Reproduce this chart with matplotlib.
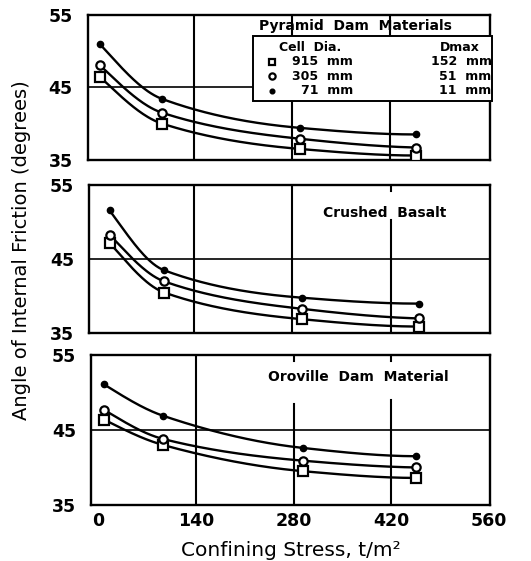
import numpy as np
import matplotlib
matplotlib.use('Agg')
import matplotlib.pyplot as plt

# =============================================================================
# DONNÉES
# =============================================================================
panel_titles = ['Pyramid  Dam  Materials', 'Crushed  Basalt', 'Oroville  Dam  Material']

stress_pyramid = [7, 95, 292, 457]
stress_basalt = [19, 97, 293, 460]
stress_oroville = [8, 93, 294, 455]

# 915 mm cell (squares)
phi_915_pyramid = [46.4, 40.0, 36.5, 35.6]
phi_915_basalt = [47.2, 40.5, 36.9, 35.9]
phi_915_oroville = [46.4, 43.0, 39.5, 38.6]

# 305 mm cell (open circles)
phi_305_pyramid = [48.0, 41.5, 37.9, 36.7]
phi_305_basalt = [48.3, 42.0, 38.3, 37.0]
phi_305_oroville = [47.7, 43.8, 40.9, 40.0]

# 71 mm cell (dots)
phi_71_pyramid = [50.9, 43.4, 39.4, 38.5]
phi_71_basalt = [51.6, 43.5, 39.8, 39.0]
phi_71_oroville = [51.1, 46.9, 42.6, 41.5]

x_ticks = [0, 140, 280, 420, 560]
y_ticks = [35, 45, 55]

legend_rows = [('915  mm', '152  mm'), ('305  mm', '51  mm'), ('71  mm', '11  mm')]

panels = [
    (stress_pyramid, phi_915_pyramid, phi_305_pyramid, phi_71_pyramid),
    (stress_basalt, phi_915_basalt, phi_305_basalt, phi_71_basalt),
    (stress_oroville, phi_915_oroville, phi_305_oroville, phi_71_oroville),
]


def smooth_curve(x, y, n=200):
    # courbe lisse monotone passant par les points (Hermite, Fritsch-Carlson)
    h = np.diff(x)
    d = np.diff(y) / h
    m = np.zeros_like(y)
    for k in range(1, len(x) - 1):
        if d[k - 1] * d[k] > 0:
            w1 = 2 * h[k] + h[k - 1]
            w2 = h[k] + 2 * h[k - 1]
            m[k] = (w1 + w2) / (w1 / d[k - 1] + w2 / d[k])
    m[0] = ((2 * h[0] + h[1]) * d[0] - h[0] * d[1]) / (h[0] + h[1])
    if np.sign(m[0]) != np.sign(d[0]):
        m[0] = 0
    m[-1] = ((2 * h[-1] + h[-2]) * d[-1] - h[-1] * d[-2]) / (h[-1] + h[-2])
    if np.sign(m[-1]) != np.sign(d[-1]):
        m[-1] = 0
    xs = np.linspace(x[0], x[-1], n)
    idx = np.clip(np.searchsorted(x, xs) - 1, 0, len(x) - 2)
    t = (xs - x[idx]) / h[idx]
    h00 = 2 * t**3 - 3 * t**2 + 1
    h10 = t**3 - 2 * t**2 + t
    h01 = -2 * t**3 + 3 * t**2
    h11 = t**3 - t**2
    ys = (h00 * y[idx] + h10 * h[idx] * m[idx]
          + h01 * y[idx + 1] + h11 * h[idx] * m[idx + 1])
    return xs, ys


# =============================================================================
# FIGURE
# =============================================================================
fig = plt.figure(figsize=(5.31, 5.61), dpi=100)
positions = [
    [0.166, 0.715, 0.757, 0.259],
    [0.168, 0.406, 0.755, 0.264],
    [0.172, 0.100, 0.751, 0.267],
]

markers = [
    dict(marker='s', ms=6.5, mfc='white', mec='black', mew=1.6),
    dict(marker='o', ms=6, mfc='white', mec='black', mew=1.6),
    dict(marker='o', ms=4.5, mfc='black', mec='black', mew=1),
]

# segments des lignes verticales (ymin, ymax) par panneau
vlines = [
    {140: (0, 1), 280: (0, 1), 420: (0, 1)},
    {140: (0, 1), 280: (0, 1), 420: (0, 0.765)},
    {140: (0, 1), 280: (0, 0.675), 420: (0, 0.70)},
]
title_pos = [(371, 53.4), (412, 51.2), (373, 52.1)]

lw = 1.7
for i, (pos, data, title) in enumerate(zip(positions, panels, panel_titles)):
    ax = fig.add_axes(pos)
    x = np.array(data[0], dtype=float)
    for series, mk in zip(data[1:], markers):
        y = np.array(series, dtype=float)
        xs, ys = smooth_curve(x, y)
        ax.plot(xs, ys, color='black', lw=lw, zorder=3)
        ax.plot(x, y, linestyle='none', zorder=4, **mk)

    ax.set_xlim(-10, 562)
    ax.set_ylim(35, 55)
    ax.set_yticks(y_ticks)
    ax.set_xticks(x_ticks)
    for v, (y0, y1) in vlines[i].items():
        ax.axvline(v, ymin=y0, ymax=y1, color='black', lw=1.5, zorder=1)
        if y1 < 1:
            ax.axvline(v, ymin=0.96, ymax=1, color='black', lw=1.5, zorder=1)
    ax.axhline(45, color='black', lw=1.2, zorder=1)
    for s in ax.spines.values():
        s.set_linewidth(1.7)
    ax.tick_params(length=0, labelsize=12.5)
    ax.tick_params(axis='y', pad=11)
    ax.tick_params(axis='x', pad=5)
    for lab in ax.get_yticklabels():
        lab.set_fontweight('bold')
    if i < 2:
        ax.tick_params(labelbottom=False)
    else:
        for lab in ax.get_xticklabels():
            lab.set_fontweight('bold')
        ax.set_xlabel('Confining Stress, t/m²', fontsize=14.5, labelpad=8)

    tx, ty = title_pos[i]
    ax.text(tx, ty, title, fontsize=10, fontweight='bold', ha='center',
            va='center', zorder=6)
    if i == 0:
        ax.add_patch(plt.Rectangle((225, 43.1), 340, 9.0, fc='white',
                                   ec='black', lw=1.4, zorder=5, clip_on=False))
        ax.text(306, 50.5, 'Cell  Dia.', fontsize=9, fontweight='bold',
                ha='center', va='center', zorder=6)
        ax.text(519, 50.5, 'Dmax', fontsize=9, fontweight='bold',
                ha='center', va='center', zorder=6)
        for k, ((cell, dmax), mk) in enumerate(zip(legend_rows, markers)):
            yy = 48.5 - k * 2.0
            m = dict(mk)
            m['ms'] = m['ms'] * 0.75
            ax.plot([252], [yy], linestyle='none', zorder=7, clip_on=False, **m)
            ax.text(367, yy, cell, fontsize=9, fontweight='bold',
                    ha='right', va='center', zorder=6)
            ax.text(564, yy, dmax, fontsize=9, fontweight='bold',
                    ha='right', va='center', zorder=6)

fig.text(0.04, 0.554, 'Angle of Internal Friction (degrees)', rotation=90,
         fontsize=14, ha='center', va='center')

plt.savefig('out.png', dpi=100)
